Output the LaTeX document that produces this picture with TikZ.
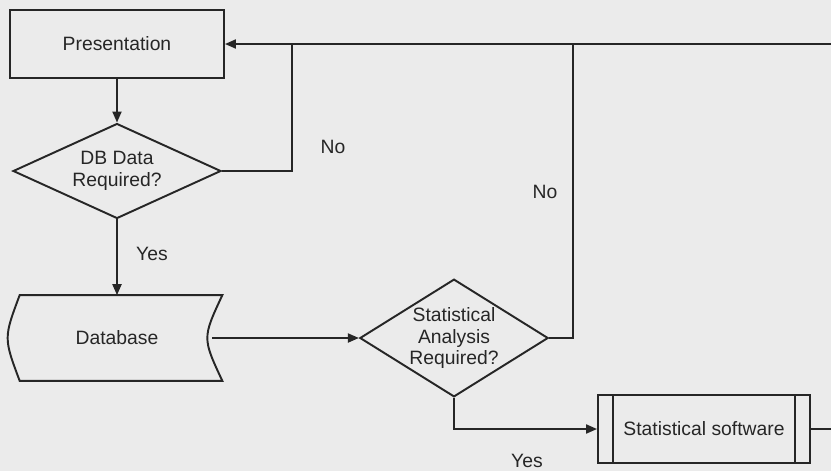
\documentclass[tikz,border=0pt]{standalone}
\usepackage{fontspec}
\setmainfont{Liberation Sans}
\usetikzlibrary{arrows.meta, shapes.geometric}

\begin{document}
\begin{tikzpicture}[x=0.02cm, y=-0.02cm,
  font=\fontsize{11}{12.5}\selectfont, text=black!85,
  box/.style={draw=black!85, line width=1.1pt, minimum width=4.28cm, minimum height=1.36cm, inner sep=0pt},
  decision/.style={draw=black!85, diamond, line width=1.1pt, inner sep=0pt, align=center},
  flow/.style={draw=black!85, line width=1.1pt, -{Triangle[length=0.22cm, width=0.18cm]}},
  link/.style={draw=black!85, line width=1.1pt}]

% page and size
\fill[black!8] (0,0) rectangle (831,471);
\useasboundingbox (0,0) rectangle (831,471);

% boxes
\node[box] (pres) at (117,44) {Presentation};
\node[decision, minimum width=4.16cm, minimum height=1.9cm, aspect=2.2] (dbq) at (117,171) {DB Data\\Required?};
\node[minimum width=4.2cm, minimum height=1.7cm, inner sep=0pt] (db) at (117,338) {Database};
\draw[link] ([xshift=0.16cm]db.north west) -- (db.north east)
  .. controls ([xshift=-0.4cm]db.east) .. (db.south east)
  -- ([xshift=0.16cm]db.south west)
  .. controls ([xshift=-0.16cm]db.west) .. cycle;
\node[decision, minimum width=3.7cm, minimum height=2.32cm, aspect=1.6] (sq) at (454,338) {Statistical\\Analysis\\Required?};
\node[box, minimum width=4.24cm] (sw) at (704,429) {Statistical software};
\draw[link] ([xshift=0.32cm]sw.north west) -- ([xshift=0.32cm]sw.south west);
\draw[link] ([xshift=-0.32cm]sw.north east) -- ([xshift=-0.32cm]sw.south east);

% loose ends and joins
\coordinate (rtop) at (831,44);
\coordinate (j1) at (292,44);
\coordinate (j2) at (573,44);
\coordinate (rbot) at (831,429);

% connectors
\draw[flow] (rtop) -- (pres.east);
\draw[flow] (pres.south) -- (dbq.north);
\draw[link] (dbq.east) -| (j1);
\draw[flow] (dbq.south) -- (db.north);
\draw[flow] ([xshift=-0.2cm]db.east) -- (sq.west);
\draw[link] (sq.east) -| (j2);
\draw[flow] (sq.south) |- (sw.west);
\draw[link] (sw.east) -- (rbot);

% labels
\node (no1) at (333,147) {No};
\node (no2) at (545,192) {No};
\node (yes1) at (152,254) {Yes};
\node (yes2) at (527,461) {Yes};
\end{tikzpicture}
\end{document}
